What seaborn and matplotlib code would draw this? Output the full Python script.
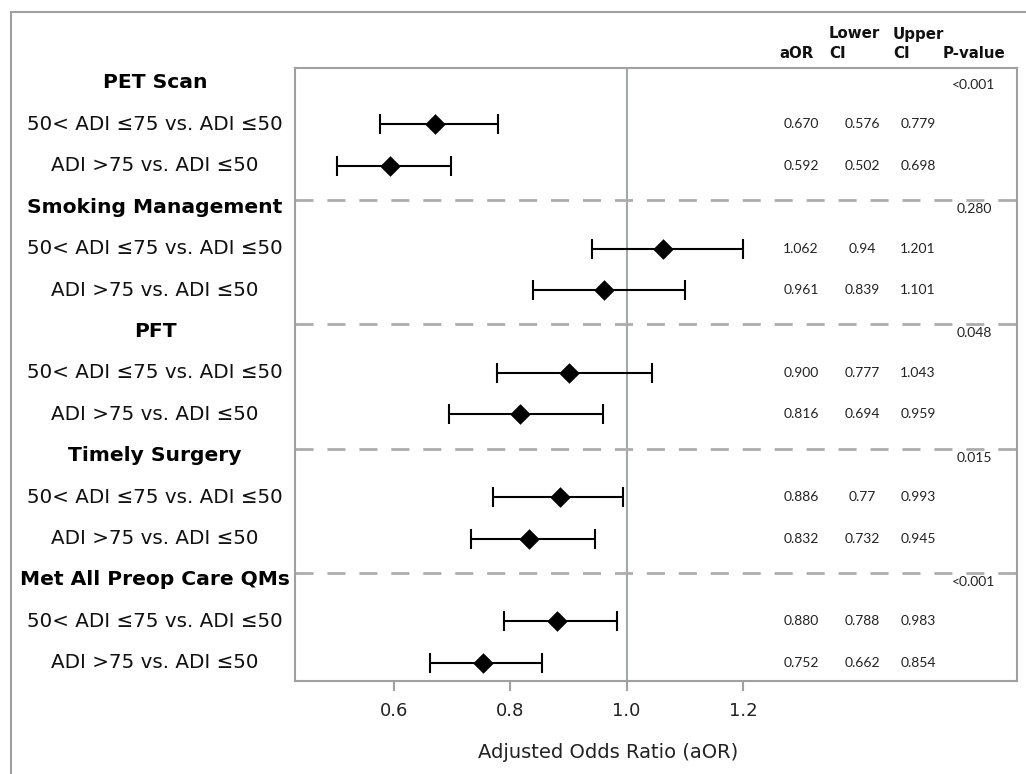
import numpy as np
import pandas as pd
import matplotlib
matplotlib.use('Agg')
import matplotlib.pyplot as plt
import seaborn as sns
from matplotlib.patches import Rectangle
from matplotlib.transforms import blended_transform_factory

# Data
measures = ['PET Scan', 'Smoking Management', 'PFT', 'Timely Surgery', 'Met All Preop Care QMs']
comparisons = ['50< ADI \u226475 vs. ADI \u226450', 'ADI >75 vs. ADI \u226450']
aor = [0.670, 0.592, 1.062, 0.961, 0.900, 0.816, 0.886, 0.832, 0.880, 0.752]
lower_ci = [0.576, 0.502, 0.94, 0.839, 0.777, 0.694, 0.77, 0.732, 0.788, 0.662]
upper_ci = [0.779, 0.698, 1.201, 1.101, 1.043, 0.959, 0.993, 0.945, 0.983, 0.854]
aor_txt = ['0.670', '0.592', '1.062', '0.961', '0.900', '0.816', '0.886', '0.832', '0.880', '0.752']
lower_txt = ['0.576', '0.502', '0.94', '0.839', '0.777', '0.694', '0.77', '0.732', '0.788', '0.662']
upper_txt = ['0.779', '0.698', '1.201', '1.101', '1.043', '0.959', '0.993', '0.945', '0.983', '0.854']
p_values = ['<0.001', '0.280', '0.048', '0.015', '<0.001']
x_ticks = [0.6, 0.8, 1.0, 1.2]

# build the row table: each measure takes 3 rows (header + 2 comparisons)
rows = []
k = 0
for g, m in enumerate(measures):
    for j, c in enumerate(comparisons):
        rows.append({'measure': m, 'comparison': c, 'y': 3 * g + 1 + j,
                     'aOR': aor[k], 'lo': lower_ci[k], 'hi': upper_ci[k],
                     'aor_t': aor_txt[k], 'lo_t': lower_txt[k], 'hi_t': upper_txt[k]})
        k += 1
df = pd.DataFrame(rows)

sns.set_style('white')
plt.rcParams['font.family'] = ['DejaVu Sans']

W, H = 1026, 774
fig = plt.figure(figsize=(W / 100, H / 100), dpi=100)
ax = fig.add_axes([295 / W, 1 - 681 / H, (1017 - 295) / W, (681 - 68) / H])

grey = '#a0a0a0'

# reference line and group separators
ax.axvline(1.0, color='#a3a9a9', lw=1.5, zorder=1)
for g in range(1, len(measures)):
    ax.axhline(3 * g - 0.17, color='#adadad', lw=2, dashes=(6.5, 5), zorder=1)

# confidence intervals
ax.errorbar(df['aOR'], df['y'], xerr=[df['aOR'] - df['lo'], df['hi'] - df['aOR']],
            fmt='none', ecolor='black', elinewidth=1.5, capsize=7, capthick=1.5, zorder=2)
sns.scatterplot(data=df, x='aOR', y='y', marker='D', s=110, color='black',
                edgecolor='black', linewidth=0, ax=ax, zorder=3, legend=False)

ax.set_xlim(0.429, 1.672)
ax.set_ylim(14.44, -0.36)
ax.set_xticks(x_ticks)
ax.set_xticklabels([f'{t:.1f}' for t in x_ticks], fontsize=13, color='#222222')
ax.set_yticks([])
ax.set_xlabel('')
ax.set_ylabel('')
ax.tick_params(axis='x', direction='out', length=7, width=1.5, color=grey, pad=8, bottom=True)
for s in ax.spines.values():
    s.set_color(grey)
    s.set_linewidth(1.5)

# left labels
tr = blended_transform_factory(fig.transFigure, ax.transData)
lx = 155 / W
for g, m in enumerate(measures):
    ax.text(lx, 3 * g, m, transform=tr, ha='center', va='center',
            fontsize=14.6, fontweight='bold', color='black', clip_on=False)
for _, r in df.iterrows():
    ax.text(lx, r['y'], r['comparison'], transform=tr, ha='center', va='center',
            fontsize=14.3, color='#111111', clip_on=False)

# table columns
num_font = dict(family='Lato', fontsize=10, color='#222222', va='center', ha='center')
for _, r in df.iterrows():
    ax.text(801 / W, r['y'], r['aor_t'], transform=tr, **num_font)
    ax.text(862 / W, r['y'], r['lo_t'], transform=tr, **num_font)
    ax.text(918 / W, r['y'], r['hi_t'], transform=tr, **num_font)
for g, p in enumerate(p_values):
    ax.text(974 / W, 3 * g + 0.05, p, transform=tr, **num_font)

# column headers
hdr = dict(fontsize=10.8, fontweight='bold', color='#111111', va='center')
fig.text(797 / W, 1 - 53 / H, 'aOR', ha='center', **hdr)
fig.text(829 / W, 1 - 34 / H, 'Lower', ha='left', **hdr)
fig.text(829 / W, 1 - 53 / H, 'CI', ha='left', **hdr)
fig.text(893 / W, 1 - 34 / H, 'Upper', ha='left', **hdr)
fig.text(893 / W, 1 - 53 / H, 'CI', ha='left', **hdr)
fig.text(943 / W, 1 - 53 / H, 'P-value', ha='left', **hdr)

fig.text(608 / W, 1 - 752 / H, 'Adjusted Odds Ratio (aOR)', ha='center', va='center',
         fontsize=14, color='#222222')

# outer frame (cropped on the right and bottom in the reference)
fig.patches.append(Rectangle((11 / W, -0.1), 1.2, 1.1 - 12 / H, transform=fig.transFigure,
                             fill=False, edgecolor=grey, lw=1.5, zorder=0))

fig.savefig('out.png', dpi=100)
